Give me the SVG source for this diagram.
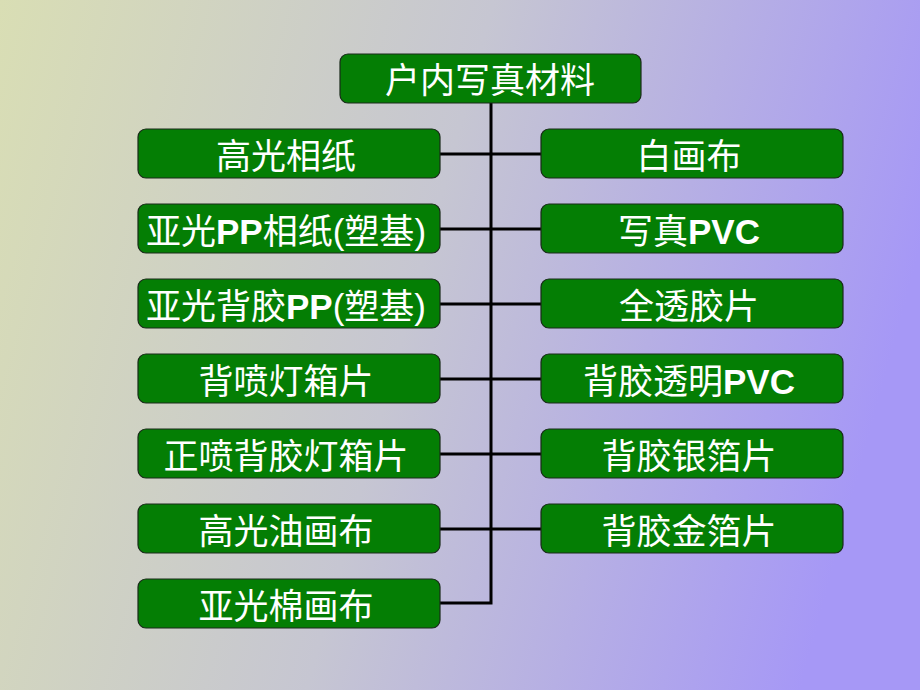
<svg xmlns="http://www.w3.org/2000/svg" width="920" height="690" viewBox="0 0 920 690">
<defs>
<linearGradient id="bg" gradientUnits="userSpaceOnUse" x1="0" y1="0" x2="920" y2="250">
<stop offset="0" stop-color="#d9deb4"/>
<stop offset="0.5" stop-color="#c6c6d2"/>
<stop offset="1" stop-color="#a698f6"/>
</linearGradient>
<style>
.box{fill:#047e04;stroke:#1a2a1a;stroke-width:1.2}
.t{font-family:"Noto Sans CJK SC","Liberation Sans",sans-serif;font-size:35px;fill:#ffffff;text-anchor:middle}
.b{font-family:"Liberation Sans",sans-serif;font-weight:bold}
.ln{stroke:#000;stroke-width:3;fill:none}
</style>
</defs>
<rect width="920" height="690" fill="url(#bg)"/>
<g id="connectors">
<polyline class="ln" points="491,103 491,603 440,603"/>
<line class="ln" x1="440" y1="154" x2="541" y2="154"/>
<line class="ln" x1="440" y1="229" x2="541" y2="229"/>
<line class="ln" x1="440" y1="304" x2="541" y2="304"/>
<line class="ln" x1="440" y1="379" x2="541" y2="379"/>
<line class="ln" x1="440" y1="454" x2="541" y2="454"/>
<line class="ln" x1="440" y1="529" x2="541" y2="529"/>
</g>
<g id="root"><rect class="box" x="340" y="54" width="301" height="49" rx="8"/><text class="t" x="490" y="93">户内写真材料</text></g>
<g id="L1"><rect class="box" x="138" y="129" width="302" height="49" rx="8"/><text class="t" x="286" y="169">高光相纸</text></g>
<g id="L2"><rect class="box" x="138" y="204" width="302" height="49" rx="8"/><text class="t" x="286" y="244">亚光<tspan class="b">PP</tspan>相纸<tspan font-family="Liberation Sans">(</tspan>塑基<tspan font-family="Liberation Sans">)</tspan></text></g>
<g id="L3"><rect class="box" x="138" y="279" width="302" height="49" rx="8"/><text class="t" x="286" y="319">亚光背胶<tspan class="b">PP</tspan><tspan font-family="Liberation Sans">(</tspan>塑基<tspan font-family="Liberation Sans">)</tspan></text></g>
<g id="L4"><rect class="box" x="138" y="354" width="302" height="49" rx="8"/><text class="t" x="286" y="394">背喷灯箱片</text></g>
<g id="L5"><rect class="box" x="138" y="429" width="302" height="49" rx="8"/><text class="t" x="286" y="469">正喷背胶灯箱片</text></g>
<g id="L6"><rect class="box" x="138" y="504" width="302" height="49" rx="8"/><text class="t" x="286" y="544">高光油画布</text></g>
<g id="L7"><rect class="box" x="138" y="579" width="302" height="49" rx="8"/><text class="t" x="286" y="619">亚光棉画布</text></g>
<g id="R1"><rect class="box" x="541" y="129" width="302" height="49" rx="8"/><text class="t" x="689" y="169">白画布</text></g>
<g id="R2"><rect class="box" x="541" y="204" width="302" height="49" rx="8"/><text class="t" x="689" y="244">写真<tspan class="b">PVC</tspan></text></g>
<g id="R3"><rect class="box" x="541" y="279" width="302" height="49" rx="8"/><text class="t" x="689" y="319">全透胶片</text></g>
<g id="R4"><rect class="box" x="541" y="354" width="302" height="49" rx="8"/><text class="t" x="689" y="394">背胶透明<tspan class="b">PVC</tspan></text></g>
<g id="R5"><rect class="box" x="541" y="429" width="302" height="49" rx="8"/><text class="t" x="689" y="469">背胶银箔片</text></g>
<g id="R6"><rect class="box" x="541" y="504" width="302" height="49" rx="8"/><text class="t" x="689" y="544">背胶金箔片</text></g>
</svg>
